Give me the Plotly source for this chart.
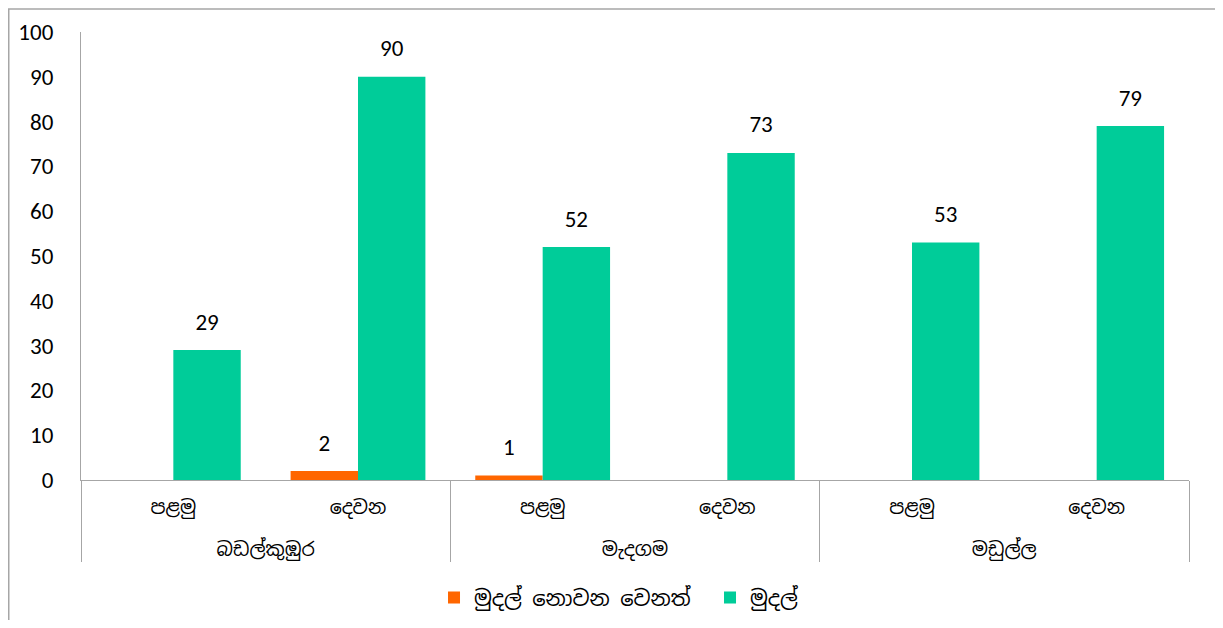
import plotly.graph_objects as go

groups = ["බඩල්කුඹුර", "බඩල්කුඹුර", "මැදගම", "මැදගම", "මඩුල්ල", "මඩුල්ල"]
subs = ["පළමු", "දෙවන", "පළමු", "දෙවන", "පළමු", "දෙවන"]
series_names = ["මුදල් නොවන වෙනත්", "මුදල්"]
non_money = [0, 2, 1, 0, 0, 0]
money = [29, 90, 52, 73, 53, 79]
y_ticks = list(range(0, 101, 10))

colors = ["#FF6600", "#00CC99"]
num_font = "Carlito, Calibri, Lato, sans-serif"
sin_font = "'Iskoola Pota', 'Noto Sans Sinhala', 'Noto Serif Sinhala', sans-serif"

# second level of the category axis pushed down one line (as in the original layout)
group_labels = ["<br>" + g for g in groups]

fig = go.Figure()
for name, vals, col in zip(series_names, [non_money, money], colors):
    fig.add_trace(go.Bar(
        x=[group_labels, subs], y=vals, name=name,
        marker=dict(color=col, line=dict(width=0)),
    ))
for name, vals in zip(series_names, [non_money, money]):
    fig.add_trace(go.Scatter(
        x=[group_labels, subs], y=vals, mode="markers+text", name=name,
        marker=dict(size=22, opacity=0, color="white"),
        text=[str(v) if v > 0 else "" for v in vals], textposition="top center",
        textfont=dict(size=23, color="#000000", family=num_font),
        showlegend=False, hoverinfo="skip", cliponaxis=False,
    ))

# page body adds an 8px offset; figure sized to fit the 1223x628 window
W, H = 1207, 612
ml, mr, mt, mb = 73, 26, 24, 140
pw, ph = W - ml - mr, H - mt - mb

fig.update_layout(
    width=W, height=H, barmode="group", bargap=0.27, bargroupgap=0,
    scattermode="group", scattergap=0.27,
    margin=dict(l=ml, r=mr, t=mt, b=mb, autoexpand=False),
    paper_bgcolor="white", plot_bgcolor="white",
    font=dict(family=sin_font, size=19, color="#000000"),
    showlegend=True,
    legend=dict(orientation="h", x=0.3186, xanchor="left", y=-0.263, yanchor="middle",
                font=dict(size=21, family=sin_font), itemwidth=30, traceorder="normal",
                entrywidth=231, entrywidthmode="pixels"),
    xaxis=dict(type="multicategory", showline=True, linecolor="#A6A6A6", linewidth=1.2,
               showdividers=True, dividercolor="#A6A6A6", dividerwidth=1.2,
               tickfont=dict(size=19, family=sin_font), showgrid=False, ticks="",
               ticklabelstandoff=10, automargin=False),
    yaxis=dict(range=[0, 100], tickvals=y_ticks, showline=True, linecolor="#A6A6A6",
               linewidth=1.2, showgrid=False, zeroline=False, ticks="",
               ticklabelstandoff=22, tickfont=dict(size=23, family=num_font),
               automargin=False),
)

fig.add_shape(type="rect", xref="paper", yref="paper",
              x0=(0.75 - ml) / pw, x1=(1400 - ml) / pw,
              y0=(mt + ph - 800) / ph, y1=1 + (mt - 1) / ph,
              line=dict(color="#A6A6A6", width=1.5), fillcolor="rgba(0,0,0,0)", layer="below")

fig.write_html("out.html")
